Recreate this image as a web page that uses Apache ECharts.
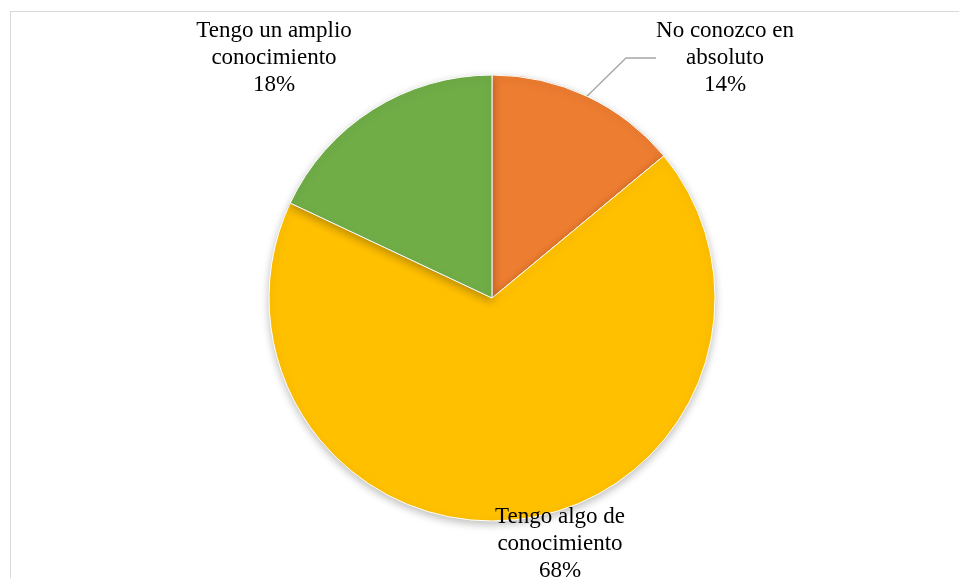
<!DOCTYPE html>
<html>
<head>
<meta charset="utf-8">
<script src="https://cdn.jsdelivr.net/npm/echarts@6/dist/echarts.min.js"></script>
<style>
  html, body { margin: 0; padding: 0; background: #fff; }
  #frame { position: absolute; left: 10px; top: 11px; width: 960px; height: 580px; border: 1px solid #d9d9d9; box-sizing: border-box; }
  #chart { width: 959px; height: 578px; position: absolute; left: 0; top: 0; }
</style>
</head>
<body>
<div id="frame"></div>
<div id="chart"></div>
<script>
  var categories = ['No conozco en\nabsoluto', 'Tengo algo de\nconocimiento', 'Tengo un amplio\nconocimiento']
  var values = [14, 68, 18]
  var colors = ['#ED7D31', '#FFC000', '#70AD47']

  // posiciones de las etiquetas (centro del bloque de texto)
  var labelPos = [[725, 58], [560, 544], [274, 58]]

  var myChart = echarts.init(document.getElementById('chart'))
  var option = {
    animation: false,
    series: [{
      type: 'pie',
      center: [492, 298],
      radius: 223,
      startAngle: 90,
      clockwise: true,
      data: categories.map(function (c, i) {
        return {
          name: c,
          value: values[i],
          itemStyle: { color: colors[i] },
          labelLine: { show: i === 0 }
        }
      }),
      itemStyle: {
        borderColor: '#fff',
        borderWidth: 1,
        shadowBlur: 8,
        shadowOffsetY: 3,
        shadowColor: 'rgba(0,0,0,0.25)'
      },
      label: {
        show: true,
        position: 'outside',
        formatter: '{b}\n{d}%',
        fontFamily: 'Liberation Serif',
        fontSize: 23,
        lineHeight: 27,
        color: '#000',
        align: 'center'
      },
      labelLine: {
        show: true,
        lineStyle: { color: '#a6a6a6', width: 1.3 }
      },
      labelLayout: function (params) {
        var p = labelPos[params.dataIndex]
        return {
          x: p[0],
          y: p[1],
          align: 'center',
          verticalAlign: 'middle'
        }
      }
    }]
  }
  myChart.setOption(option)
  window.addEventListener('resize', myChart.resize)
</script>
</body>
</html>
